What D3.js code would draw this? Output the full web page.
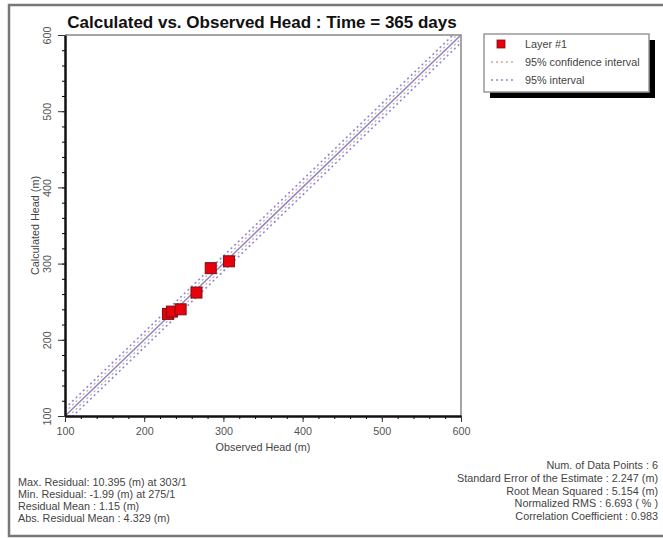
<!DOCTYPE html>
<html>
<head>
<meta charset="utf-8">
<script src="https://cdn.jsdelivr.net/npm/d3@7"></script>
<style>
  body { margin: 0; background: #fff; }
  svg { display: block; font-family: "Liberation Sans", Arial, sans-serif; }
  .stat { font-size: 10.8px; fill: #444; }
  .tick text { font-size: 10.8px; fill: #555; }
</style>
</head>
<body>
<svg id="chart" width="663" height="538"></svg>
<script>
// observed / calculated head (m)
var observed   = [230, 235, 246, 266, 284, 307];
var calculated = [234, 237, 240, 262, 294, 303];

var axisTicks = [100, 200, 300, 400, 500, 600];
var confOffset = 5;     // 95% confidence interval (m)
var predOffset = 10;    // 95% interval (m)

var legendItems = ["Layer #1", "95% confidence interval", "95% interval"];

var leftStats = [
  "Max. Residual: 10.395 (m) at 303/1",
  "Min. Residual: -1.99 (m) at 275/1",
  "Residual Mean : 1.15 (m)",
  "Abs. Residual Mean : 4.329 (m)"
];
var rightStats = [
  "Num. of Data Points : 6",
  "Standard Error of the Estimate : 2.247 (m)",
  "Root Mean Squared : 5.154 (m)",
  "Normalized RMS : 6.693 ( % )",
  "Correlation Coefficient : 0.983"
];

var svg = d3.select("#chart");
var plot = {left: 65, right: 461, top: 35, bottom: 416};

var x = d3.scaleLinear().domain([100, 600]).range([plot.left, plot.right]);
var y = d3.scaleLinear().domain([100, 600]).range([plot.bottom, plot.top]);

// outer frame
svg.append("rect")
  .attr("x", 9).attr("y", 5).attr("width", 670).attr("height", 531)
  .attr("fill", "none").attr("stroke", "#777").attr("stroke-width", 2.5);

// title
svg.append("text")
  .attr("x", 262).attr("y", 28)
  .attr("text-anchor", "middle")
  .style("font-size", "17px").style("font-weight", "bold").style("fill", "#111")
  .text("Calculated vs. Observed Head : Time = 365 days");

// plot frame (top/right)
svg.append("path")
  .attr("d", "M" + plot.left + "," + plot.top + "H" + plot.right + "V" + plot.bottom)
  .attr("fill", "none").attr("stroke", "#888").attr("stroke-width", 1.5);

// clip for the reference lines
svg.append("clipPath").attr("id", "clip")
  .append("rect")
  .attr("x", plot.left).attr("y", plot.top)
  .attr("width", plot.right - plot.left).attr("height", plot.bottom - plot.top);

var lines = svg.append("g").attr("clip-path", "url(#clip)");
var diag = function(off) {
  return d3.line()([[x(100), y(100 + off)], [x(600), y(600 + off)]]);
};
[predOffset, -predOffset].forEach(function(o) {
  lines.append("path").attr("d", diag(o))
    .attr("stroke", "#8a8ad6").attr("stroke-width", 1.6)
    .attr("stroke-dasharray", "2,3").attr("fill", "none");
});
[confOffset, -confOffset].forEach(function(o) {
  lines.append("path").attr("d", diag(o))
    .attr("stroke", "#d8a8a8").attr("stroke-width", 1.4)
    .attr("stroke-dasharray", "2,3").attr("fill", "none");
});
lines.append("path").attr("d", diag(0))
  .attr("stroke", "#8c88c4").attr("stroke-width", 1.5).attr("fill", "none");

// axes
var minor = d3.range(100, 601, 20);
var xAxis = svg.append("g").attr("transform", "translate(0," + plot.bottom + ")");
xAxis.call(d3.axisBottom(x).tickValues(minor).tickSize(3).tickFormat(""));
xAxis.select(".domain").remove();
var xMajor = svg.append("g").attr("transform", "translate(0," + plot.bottom + ")")
  .call(d3.axisBottom(x).tickValues(axisTicks).tickSize(6).tickPadding(5).tickSizeOuter(0));
xMajor.select(".domain").attr("stroke", "#111").attr("stroke-width", 2.5);
xMajor.selectAll(".tick line").attr("stroke", "#333");

var yAxis = svg.append("g").attr("transform", "translate(" + plot.left + ",0)");
yAxis.call(d3.axisLeft(y).tickValues(minor).tickSize(3).tickFormat(""));
yAxis.select(".domain").remove();
var yMajor = svg.append("g").attr("transform", "translate(" + plot.left + ",0)")
  .call(d3.axisLeft(y).tickValues(axisTicks).tickSize(7).tickSizeOuter(0));
yMajor.select(".domain").attr("stroke", "#111").attr("stroke-width", 2.5);
yMajor.selectAll(".tick line").attr("stroke", "#333");
yMajor.selectAll(".tick text")
  .attr("x", null).attr("dy", null)
  .attr("text-anchor", "middle")
  .attr("transform", "translate(-18,0) rotate(-90)")
  .attr("dy", "0.35em");

// axis titles
svg.append("text").attr("class", "stat")
  .attr("x", (plot.left + plot.right) / 2).attr("y", 451)
  .attr("text-anchor", "middle").text("Observed Head (m)");
svg.append("text").attr("class", "stat")
  .attr("transform", "translate(39," + (plot.top + plot.bottom) / 2 + ") rotate(-90)")
  .attr("text-anchor", "middle").text("Calculated Head (m)");

// points
svg.append("g").selectAll("rect")
  .data(observed.map(function(d, i) { return [d, calculated[i]]; }))
  .enter().append("rect")
  .attr("x", function(d) { return x(d[0]) - 5.5; })
  .attr("y", function(d) { return y(d[1]) - 5.5; })
  .attr("width", 11).attr("height", 11)
  .attr("fill", "#e8000c").attr("stroke", "#7a1010").attr("stroke-width", 1);

// legend
var lg = svg.append("g").attr("transform", "translate(484,34)");
lg.append("rect").attr("x", 6).attr("y", 6).attr("width", 165).attr("height", 58).attr("fill", "#000");
lg.append("rect").attr("x", 0).attr("y", 0).attr("width", 165).attr("height", 58)
  .attr("fill", "#fff").attr("stroke", "#999").attr("stroke-width", 1.5);
lg.append("rect").attr("x", 13).attr("y", 6).attr("width", 8).attr("height", 8)
  .attr("fill", "#e8000c").attr("stroke", "#7a1010").attr("stroke-width", 0.8);
var legendColors = ["#d8a0a0", "#8a8ad6"];
legendItems.forEach(function(t, i) {
  lg.append("text").attr("class", "stat")
    .attr("x", 41).attr("y", 14 + i * 18).text(t);
  if (i > 0) {
    lg.append("line").attr("x1", 7).attr("x2", 30)
      .attr("y1", 10 + i * 18).attr("y2", 10 + i * 18)
      .attr("stroke", legendColors[i - 1]).attr("stroke-width", 1.5)
      .attr("stroke-dasharray", "2,3");
  }
});

// statistics
svg.append("g").selectAll("text").data(leftStats).enter().append("text")
  .attr("class", "stat").attr("x", 18)
  .attr("y", function(d, i) { return 486 + i * 12; })
  .text(function(d) { return d; });
svg.append("g").selectAll("text").data(rightStats).enter().append("text")
  .attr("class", "stat").attr("x", 658).attr("text-anchor", "end")
  .attr("y", function(d, i) { return 469 + i * 12.8; })
  .text(function(d) { return d; });
</script>
</body>
</html>
